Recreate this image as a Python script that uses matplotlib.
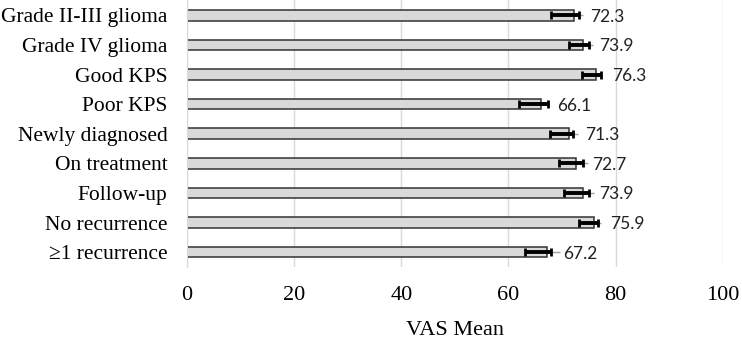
import numpy as np
import matplotlib
matplotlib.use("Agg")
from matplotlib import pyplot as plt

# categories and values
groups = ["Grade II-III glioma", "Grade IV glioma", "Good KPS", "Poor KPS",
          "Newly diagnosed", "On treatment", "Follow-up", "No recurrence",
          "\u22651 recurrence"]
means = [72.3, 73.9, 76.3, 66.1, 71.3, 72.7, 73.9, 75.9, 67.2]
ci_low = [68.0, 71.3, 73.7, 61.9, 67.7, 69.5, 70.3, 73.2, 63.1]
ci_high = [73.2, 75.1, 77.2, 67.3, 72.1, 74.0, 75.0, 76.8, 67.9]
sd_high = [73.9, 75.8, 77.5, 67.5, 72.9, 74.8, 76.0, 77.3, 69.6]

means = np.array(means)
ci_low = np.array(ci_low)
ci_high = np.array(ci_high)
sd_high = np.array(sd_high)
y = np.arange(len(groups))

fig = plt.figure(figsize=(7.42, 3.40), dpi=100)
ax = fig.add_axes([0.252, 0.215, 0.722, 0.785])

ax.barh(y, means, height=0.36, color="#d9d9d9", edgecolor="#333333",
        linewidth=1.1, zorder=2)

# thin grey extension, then the thick black interval over it
ax.errorbar(means, y, xerr=[means - ci_low, sd_high - means], fmt="none",
            ecolor="#a0a0a0", elinewidth=1.0, capsize=0, zorder=3)
ax.errorbar(means, y, xerr=[means - ci_low, ci_high - means], fmt="none",
            ecolor="black", elinewidth=2.8, capsize=3, capthick=2, zorder=4)

for yi, m in zip(y, means):
    ax.text(m + 3.0, yi + 0.05, f"{m:.1f}", va="center", ha="left",
            fontsize=12.5, family="Lato", color="#222222")

ax.set_xlim(0, 100)
ax.set_ylim(8.5, -0.52)
ax.set_xticks(np.arange(0, 101, 20))
ax.set_yticks(y)
ax.set_yticklabels(groups, family="Liberation Serif", fontsize=15.5)
for lab in ax.get_xticklabels():
    lab.set_family("Liberation Serif")
    lab.set_fontsize(16)
ax.tick_params(axis="both", length=0)
ax.tick_params(axis="y", pad=14)
ax.tick_params(axis="x", pad=14)
ax.grid(axis="x", color="#d9d9d9", linewidth=1.0, zorder=0)
ax.set_axisbelow(True)
for s in ["top", "right", "bottom"]:
    ax.spines[s].set_visible(False)
ax.spines["left"].set_color("#d9d9d9")
ax.set_xlabel("VAS Mean", family="Liberation Serif", fontsize=16, labelpad=11)

fig.savefig("out.png", dpi=100)
